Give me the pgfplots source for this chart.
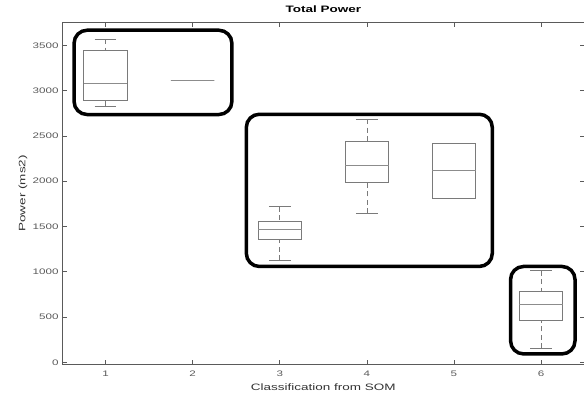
\documentclass[border=0pt]{standalone}
\usepackage{pgfplots}
\pgfplotsset{compat=1.18}
\usepgfplotslibrary{statistics}
\usepackage{fontspec}
\setmainfont{Liberation Sans}[FakeStretch=1.45]
\definecolor{axgray}{HTML}{5A5A5A}
\definecolor{boxgray}{HTML}{7A7A7A}
\definecolor{medgray}{HTML}{8C8C8C}
\begin{document}
\begin{tikzpicture}
\begin{axis}[
  name=ax,
  scale only axis,
  width=522pt, height=341pt,
  xmin=0.5, xmax=6.5, ymin=-20, ymax=3750,
  xtick={1,2,3,4,5,6}, ytick={0,500,1000,1500,2000,2500,3000,3500},
  tick align=inside,
  major tick length=4.5pt,
  axis line style={axgray, line width=0.8pt},
  every tick/.style={axgray, line width=0.6pt},
  tick label style={font=\fontsize{8}{9}\selectfont, text=axgray},
  /pgf/number format/assume math mode=true,
  /pgf/number format/1000 sep={},
  xticklabel style={yshift=-3pt},
  title={\bfseries Total Power},
  title style={font=\fontsize{9.3}{10}\selectfont, at={(axis description cs:0.5,1.0226)}, anchor=center},
  xlabel={Classification from SOM},
  ylabel={Power (ms2)},
  xlabel style={font=\fontsize{9.3}{10}\selectfont, text=black!80, at={(axis description cs:0.5,-0.0666)}, anchor=center},
  ylabel style={font=\fontsize{9.3}{10}\selectfont, text=black!80, at={(axis description cs:-0.0749,0.5)}, anchor=center},
  clip=false,
  boxplot/draw direction=y,
  boxplot/box extend=0.5,
  boxplot/whisker extend=0.25,
  boxplot/draw/lower whisker/.code={%
    \draw[dash pattern=on 5pt off 3.5pt]
      (boxplot box cs:\pgfplotsboxplotvalue{lower whisker},0.5) --
      (boxplot box cs:\pgfplotsboxplotvalue{lower quartile},0.5);
    \draw (boxplot whisker cs:\pgfplotsboxplotvalue{lower whisker},0) --
      (boxplot whisker cs:\pgfplotsboxplotvalue{lower whisker},1);
  },
  boxplot/draw/upper whisker/.code={%
    \draw[dash pattern=on 5pt off 3.5pt]
      (boxplot box cs:\pgfplotsboxplotvalue{upper whisker},0.5) --
      (boxplot box cs:\pgfplotsboxplotvalue{upper quartile},0.5);
    \draw (boxplot whisker cs:\pgfplotsboxplotvalue{upper whisker},0) --
      (boxplot whisker cs:\pgfplotsboxplotvalue{upper whisker},1);
  },
  boxplot/every median/.style={medgray},
]
\addplot[boxgray, line width=0.7pt, boxplot prepared={draw position=1, lower whisker=2827, lower quartile=2893, median=3077, upper quartile=3444, upper whisker=3568}] coordinates {};
\addplot[medgray, line width=0.7pt, boxplot prepared={draw position=2, lower whisker=3110, lower quartile=3110, median=3110, upper quartile=3110, upper whisker=3110}] coordinates {};
\addplot[boxgray, line width=0.7pt, boxplot prepared={draw position=3, lower whisker=1128, lower quartile=1354, median=1472, upper quartile=1557, upper whisker=1718}] coordinates {};
\addplot[boxgray, line width=0.7pt, boxplot prepared={draw position=4, lower whisker=1645, lower quartile=1982, median=2177, upper quartile=2445, upper whisker=2684}] coordinates {};
\addplot[boxgray, line width=0.7pt, boxplot prepared={draw position=5, lower whisker=1811, lower quartile=1811, median=2115, upper quartile=2423, upper whisker=2423}] coordinates {};
\addplot[boxgray, line width=0.7pt, boxplot prepared={draw position=6, lower whisker=154, lower quartile=467, median=635, upper quartile=786, upper whisker=1010}] coordinates {};
\draw[line width=3.5pt, rounded corners=13pt] (axis cs:0.638,3667) rectangle (axis cs:2.45,2736);
\draw[line width=3.5pt, rounded corners=13pt] (axis cs:2.616,2739) rectangle (axis cs:5.44,1058);
\draw[line width=3.5pt, rounded corners=13pt] (axis cs:5.65,1058) rectangle (axis cs:6.39,92);
\end{axis}
\pgfresetboundingbox
\path[use as bounding box] ([xshift=-62pt,yshift=-30pt]ax.south west) rectangle ([xshift=-0.6pt,yshift=22.7pt]ax.north east);
\end{tikzpicture}
\end{document}
